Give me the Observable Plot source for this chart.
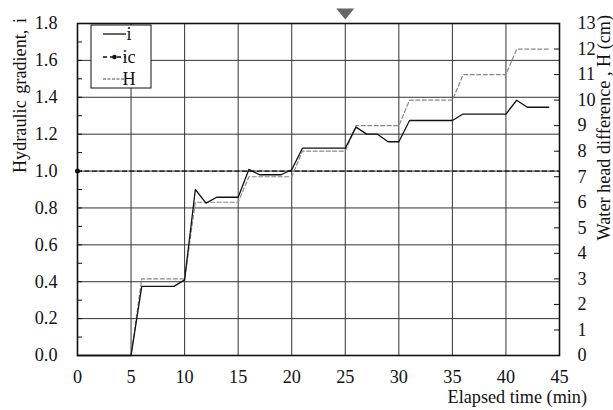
<!DOCTYPE html>
<html><head><meta charset="utf-8">
<script src="https://cdn.jsdelivr.net/npm/d3@7"></script>
<script src="https://cdn.jsdelivr.net/npm/@observablehq/plot@0.6"></script>
<style>
body{margin:0;background:#fff}
#chart{position:relative;width:613px;height:410px}
</style>
</head><body><div id="chart"></div>
<script>
// ---- data ----
const time = [0,1,2,3,4,5,6,7,8,9,10,11,12,13,14,15,16,17,18,19,20,21,22,23,24,25,26,27,28,29,30,31,32,33,34,35,36,37,38,39,40,41,42,43,44];
const gradientI = [0,0,0,0,0,0, 0.375,0.375,0.375,0.375, 0.41, 0.90, 0.826, 0.858,0.858,0.858, 1.009, 0.98,0.98,0.98, 1.007,
  1.124,1.124,1.124,1.124,1.124, 1.238, 1.2,1.2, 1.159,1.159, 1.274,1.274,1.274,1.274,1.274, 1.309,1.309,1.309,1.309,1.309, 1.384, 1.346,1.346,1.346];
const headH = [0,0,0,0,0,0, 3,3,3,3,3, 6,6,6,6,6, 7,7,7,7,7, 8,8,8,8,8, 9,9,9,9,9, 10,10,10,10,10, 11,11,11,11,11, 12,12,12,12];
const criticalIc = [1.0];
const markerTime = [25];
const xTicks = [0,5,10,15,20,25,30,35,40,45];
const yTicks = [0,0.2,0.4,0.6,0.8,1.0,1.2,1.4,1.6,1.8];
const yMinorTicks = [0.1,0.2,0.3,0.4,0.5,0.6,0.7,0.8,0.9,1.0,1.1,1.2,1.3,1.4,1.5,1.6,1.7];
const hTicks = [0,1,2,3,4,5,6,7,8,9,10,11,12,13];
const xDomain = [0,45], yDomain = [0,1.8], hDomain = [0,13];
const legendLabels = ["i","ic","H"];

// ---- layout ----
const W = 613, Ht = 410, mL = 77, mR = 54, mT = 23, mB = 55;
const plotW = W - mL - mR;
const FS = 18.2;
const hToI = h => h * yDomain[1] / hDomain[1];
const data = time.map((t, k) => ({t, i: gradientI[k], h: hToI(headH[k])}));
const font = "'Liberation Serif', 'Times New Roman', serif";
const downTri = {draw(ctx, size) { const r = Math.sqrt(size / Math.PI); const w = 1.38 * r, h = 0.85 * r;
  ctx.moveTo(-w, -h); ctx.lineTo(w, -h); ctx.lineTo(0, h); ctx.closePath(); }};

const chart = Plot.plot({
  width: W, height: Ht, marginLeft: mL, marginRight: mR, marginTop: mT, marginBottom: mB,
  style: {fontFamily: font, fontSize: FS + "px", color: "#111", background: "#fff", overflow: "visible"},
  x: {domain: xDomain},
  y: {domain: yDomain},
  marks: [
    Plot.gridX(xTicks.slice(1, -1), {stroke: "#333", strokeOpacity: 1, strokeWidth: 1}),
    Plot.gridY(yTicks.slice(1, -1), {stroke: "#333", strokeOpacity: 1, strokeWidth: 1}),
    Plot.ruleY(criticalIc, {stroke: "#111", strokeWidth: 1.3, strokeDasharray: "5,2.5"}),
    Plot.dot(criticalIc, {x: () => xDomain[0], y: d => d, r: 2.5, fill: "#111", stroke: null}),
    Plot.line(data, {x: "t", y: "h", stroke: "#888", strokeWidth: 1.2, strokeDasharray: "4,2.5"}),
    Plot.line(data, {x: "t", y: "i", stroke: "#111", strokeWidth: 1.3}),
    Plot.tickY(yMinorTicks, {y: d => d, insetRight: plotW - 5, stroke: "#111", strokeWidth: 1}),
    Plot.tickY(hTicks.map(hToI), {y: d => d, insetLeft: plotW - 5, stroke: "#111", strokeWidth: 1}),
    Plot.axisX(xTicks, {tickSize: 0, tickPadding: 15, tickFormat: d => String(d), label: null}),
    Plot.axisY(yTicks, {anchor: "left", tickSize: 0, tickPadding: 20, tickFormat: d => d.toFixed(1), label: null}),
    Plot.axisY(hTicks.map(hToI), {anchor: "right", tickSize: 0, tickPadding: 18,
      tickFormat: d => String(Math.round(d * hDomain[1] / yDomain[1])), label: null}),
    Plot.frame({stroke: "#111", strokeWidth: 1.6}),
    Plot.dot(markerTime, {x: d => d, frameAnchor: "top", dy: -9.5, symbol: downTri, r: 6.5, fill: "#666", stroke: null})
  ]
});
document.getElementById("chart").appendChild(chart);

// ---- axis titles and legend ----
const svg = d3.select(chart);
const tt = svg.append("g").attr("font-family", font).attr("font-size", FS).attr("fill", "#111");
tt.append("text").attr("transform", "translate(26,18) rotate(-90)").attr("text-anchor", "end").attr("word-spacing", 2).text("Hydraulic gradient, i");
tt.append("text").attr("transform", "translate(610,15) rotate(-90)").attr("text-anchor", "end").text("Water head difference , H (cm)");
tt.append("text").attr("x", 587).attr("y", 403).attr("text-anchor", "end").text("Elapsed time (min)");

const lg = svg.append("g");
lg.append("rect").attr("x", 91).attr("y", 25).attr("width", 60).attr("height", 63).attr("fill", "#fff").attr("stroke", "#111").attr("stroke-width", 1);
const rows = [
  {y: 34, stroke: "#111", dash: null, dot: false},
  {y: 57, stroke: "#111", dash: "4,3", dot: true},
  {y: 79, stroke: "#888", dash: "3,1.5", dot: false}
];
rows.forEach((r, k) => {
  lg.append("line").attr("x1", 103).attr("x2", 126).attr("y1", r.y).attr("y2", r.y)
    .attr("stroke", r.stroke).attr("stroke-width", 1.3).attr("stroke-dasharray", r.dash);
  if (r.dot) lg.append("circle").attr("cx", 114.5).attr("cy", r.y).attr("r", 2.3).attr("fill", "#111");
  lg.append("text").attr("x", 129).attr("y", r.y + 6).attr("font-family", font).attr("font-size", FS).attr("fill", "#111").text(legendLabels[k]);
});
</script>
</body></html>
